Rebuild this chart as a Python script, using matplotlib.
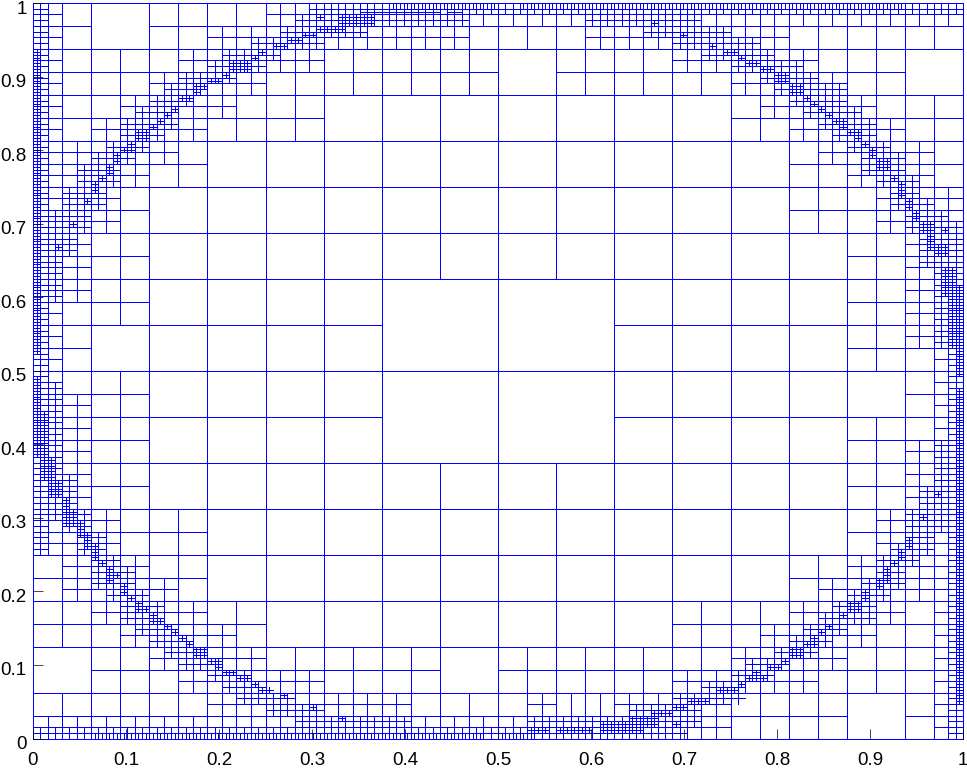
import matplotlib
matplotlib.use("Agg")
import matplotlib.pyplot as plt
from matplotlib.collections import LineCollection
from matplotlib.transforms import ScaledTranslation

plt.rcParams["font.family"] = ["Liberation Sans", "DejaVu Sans"]

# Cells that are split in four: {row from bottom: "columns"}
cells3 = {0: "0-7", 1: "0-7", 2: "0-7", 3: "0-2 5-7", 4: "0-2 5-7", 5: "0-7", 6: "0-7", 7: "0-7"}

cells4 = {
    15: "0 2-15", 14: "0-7 9-14", 13: "0-4 12-15", 12: "0-2 13-15",
    11: "0-1 13-15", 10: "0-1 14-15", 9: "0-1 14-15", 8: "0 14-15",
    7: "0-1 15", 6: "0-1 14-15", 5: "0-1 14-15", 4: "0-2 14-15",
    3: "0-2 13-15", 2: "0-3 11-15", 1: "1-6 8-15", 0: "0-13 15",
}

cells5 = {
    31: "0 8-31", 30: "0 6-14 19-25", 29: "0 5-9 22-26", 28: "0 4-7 24-27",
    27: "0 3-6 25-28", 26: "0 2-5 26-29", 25: "0-4 27-30", 24: "0-3 28-30",
    23: "0-2 29-31", 22: "0-2 29-31", 21: "0-1 30-31", 20: "0-1 30-31",
    19: "0-1 30-31", 18: "0 30-31", 17: "0 30-31", 16: "0 31",
    15: "0 31", 14: "0-1 31", 13: "0-1 31", 12: "0-1 30-31",
    11: "0-1 30-31", 10: "0-1 30-31", 9: "0-2 29-31", 8: "0-2 29-31",
    7: "1-3 28-31", 6: "1-4 27-31", 5: "2-5 26-29 31", 4: "3-6 25-28 31",
    3: "4-7 24-27 31", 2: "5-9 22-26 31", 1: "6-12 17 20-23 31", 0: "0-23 31",
}

cells6 = {
    63: "0 19-63", 62: "0 18-29 38-45", 61: "0 17-22 42-47", 60: "0 15-19 44-49",
    59: "0 13-16 46-50", 58: "0 12-15 48-52", 57: "0 10-13 50-53", 56: "0 9-11 51-55",
    55: "0 8-10 52-55", 54: "0 7-9 53-56", 53: "0 6-9 54-57", 52: "0 6-8 55-57",
    51: "0 5-7 56-58", 50: "0 4-6 57-59", 49: "0 3-5 57-59", 48: "0 3-5 58-60",
    47: "0 2-4 59-60", 46: "0 2-4 59-61", 45: "0 1-3 60-62", 44: "0-3 60-63",
    43: "0-2 61-63", 42: "0-2 61-63", 41: "0-1 61-63", 40: "0-1 62-63",
    39: "0-1 62-63", 38: "0-1 62-63", 37: "0 62-63", 36: "0 62-63",
    35: "0 62-63", 34: "0 62-63", 33: "0 63", 32: "0 63",
    31: "0 63", 30: "0-1 63", 29: "0-1 63", 28: "0-1 63",
    27: "0-1 63", 26: "0-1 63", 25: "0-1 62-63", 24: "0-1 62-63",
    23: "0-1 62-63", 22: "0-2 62-63", 21: "0-2 61-63", 20: "0-2 61-63",
    19: "0-3 60-63", 18: "0 2-3 60-63", 17: "0 3-4 60-61 63", 16: "0 3-4 59-61 63",
    15: "4-5 58-60 63", 14: "4-6 58-59 63", 13: "4-6 57-59 63", 12: "5-7 56-58 63",
    11: "6-8 55-57 63", 10: "6-8 54-57 63", 9: "7-9 53-55 63", 8: "8-10 52-54 63",
    7: "9-11 51-53 63", 6: "10-12 49-51 63", 5: "12-14 48-50 63", 4: "13-15 46-48 63",
    3: "14-17 44-48 63", 2: "16-19 41-45 63", 1: "18-25 34-45 63", 0: "0-44 63",
}

# finest crosses, (first row, last row, first col, last col)
cells7 = [
    (67, 119, 0, 0), (49, 62, 0, 0), (49, 56, 1, 1), (45, 48, 1, 2), (42, 44, 2, 3),
    (39, 41, 4, 4), (37, 39, 4, 5), (35, 37, 6, 6), (33, 35, 7, 7), (31, 33, 8, 8),
    (30, 30, 9, 9), (27, 29, 10, 10), (28, 28, 11, 11), (25, 26, 12, 12), (24, 24, 13, 13),
    (22, 23, 14, 14), (22, 22, 15, 15), (20, 21, 16, 16), (20, 20, 17, 17), (19, 19, 18, 18),
    (18, 18, 19, 19), (17, 17, 20, 20), (16, 16, 21, 21), (14, 15, 22, 23), (13, 13, 24, 24),
    (12, 13, 25, 25), (11, 11, 26, 27), (10, 10, 28, 29), (9, 9, 30, 30), (8, 8, 31, 32),
    (7, 7, 34, 34), (5, 5, 38, 38), (3, 3, 42, 42), (1, 1, 68, 70), (1, 1, 72, 76),
    (1, 2, 78, 83), (2, 3, 82, 85), (4, 4, 85, 87), (2, 2, 88, 88), (5, 5, 88, 89),
    (6, 6, 90, 92), (8, 8, 94, 96), (9, 9, 97, 97), (10, 10, 98, 100), (11, 11, 99, 99),
    (12, 12, 101, 102), (13, 13, 103, 103), (14, 15, 104, 105), (16, 16, 106, 107), (17, 17, 107, 107),
    (18, 18, 108, 108), (19, 19, 109, 109), (21, 21, 111, 111), (22, 23, 112, 113), (24, 25, 114, 114),
    (26, 27, 116, 116), (27, 29, 117, 117), (30, 30, 118, 118), (31, 32, 119, 119), (33, 34, 120, 120),
    (38, 38, 122, 122), (6, 60, 127, 127), (63, 78, 127, 127), (71, 78, 126, 126), (68, 70, 126, 126),
    (77, 81, 125, 126), (42, 42, 124, 124), (84, 85, 124, 125), (85, 87, 123, 123), (88, 89, 122, 123),
    (88, 88, 125, 125), (90, 91, 121, 121), (92, 93, 120, 120), (94, 96, 119, 119), (97, 97, 118, 118),
    (99, 100, 116, 117), (101, 102, 115, 115), (103, 103, 114, 114), (104, 104, 113, 113), (105, 105, 112, 113),
    (106, 106, 111, 111), (107, 107, 110, 111), (108, 108, 109, 109), (109, 109, 108, 108), (110, 110, 107, 107),
    (111, 111, 106, 106), (112, 113, 104, 105), (114, 115, 102, 103), (116, 116, 100, 101), (117, 117, 98, 99),
    (118, 118, 97, 97), (119, 119, 95, 96), (120, 120, 93, 93), (122, 122, 89, 89), (124, 124, 85, 85),
    (124, 125, 42, 46), (123, 123, 39, 42), (125, 125, 39, 39), (122, 122, 37, 38), (121, 121, 35, 36),
    (120, 120, 33, 34), (119, 119, 31, 31), (118, 118, 30, 30), (116, 117, 27, 29), (115, 115, 26, 26),
    (114, 114, 24, 25), (113, 113, 22, 23), (112, 112, 22, 22), (111, 111, 20, 21), (109, 109, 19, 19),
    (108, 108, 18, 18), (107, 107, 17, 17), (106, 106, 16, 16), (104, 105, 14, 15), (102, 103, 13, 13),
    (102, 102, 12, 12), (100, 101, 11, 11), (98, 99, 10, 10), (97, 97, 9, 9), (95, 96, 8, 8),
    (93, 93, 7, 7), (89, 89, 5, 5), (85, 85, 3, 3),
]

# cells that are only halved, (level, row, first col, last col)
halved_x = [(5, 1, 18, 19), (7, 127, 49, 63), (7, 127, 67, 119), (7, 0, 8, 61), (7, 0, 64, 68)]
halved_y = [(7, 126, 45, 55), (7, 126, 57, 58)]

ticks = [0, 0.1, 0.2, 0.3, 0.4, 0.5, 0.6, 0.7, 0.8, 0.9, 1]
tick_labels = ["0", "0.1", "0.2", "0.3", "0.4", "0.5", "0.6", "0.7", "0.8", "0.9", "1"]


def columns(text):
    cols = []
    for part in text.split():
        first, _, last = part.partition("-")
        cols.extend(range(int(first), int(last or first) + 1))
    return cols


def halve_x(level, row, col):
    size = 1 / 2**level
    x = (col + 0.5) * size
    return [(x, row * size), (x, (row + 1) * size)]


def halve_y(level, row, col):
    size = 1 / 2**level
    y = (row + 0.5) * size
    return [(col * size, y), ((col + 1) * size, y)]


segments = [[(0, 0), (1, 0)], [(1, 0), (1, 1)], [(1, 1), (0, 1)], [(0, 1), (0, 0)]]

for level in range(3):
    for row in range(2**level):
        for col in range(2**level):
            segments += [halve_x(level, row, col), halve_y(level, row, col)]

for level, cells in [(3, cells3), (4, cells4), (5, cells5), (6, cells6)]:
    for row, text in cells.items():
        for col in columns(text):
            segments += [halve_x(level, row, col), halve_y(level, row, col)]

for row0, row1, col0, col1 in cells7:
    for row in range(row0, row1 + 1):
        for col in range(col0, col1 + 1):
            segments += [halve_x(7, row, col), halve_y(7, row, col)]

for level, row, col0, col1 in halved_x:
    segments += [halve_x(level, row, col) for col in range(col0, col1 + 1)]
for level, row, col0, col1 in halved_y:
    segments += [halve_y(level, row, col) for col in range(col0, col1 + 1)]

fig = plt.figure(figsize=(9.67, 7.69), dpi=100)
ax = fig.add_axes([33 / 967, 1 - 738.5 / 769, 930 / 967, 735.5 / 769])

ax.add_collection(LineCollection(segments, colors="#0000ff", linewidths=0.5, antialiaseds=False, zorder=1, clip_on=False))

ax.set_xlim(0, 1)
ax.set_ylim(0, 1)
ax.set_xticks(ticks)
ax.set_xticklabels(tick_labels)
ax.set_yticks(ticks)
ax.set_yticklabels(tick_labels)
ax.tick_params(direction="in", length=7, width=0.5, labelsize=13.5, pad=4.5, color="black", top=False, right=False)
ax.tick_params(axis="x", pad=10)
ax.set_axisbelow(False)
for name in ["top", "right", "left", "bottom"]:
    ax.spines[name].set_visible(False)

# y labels sit a little below their ticks
shift = ScaledTranslation(0, -4 / 100, fig.dpi_scale_trans)
for label in ax.get_yticklabels():
    label.set_transform(label.get_transform() + shift)

fig.savefig("out.png", dpi=100)
